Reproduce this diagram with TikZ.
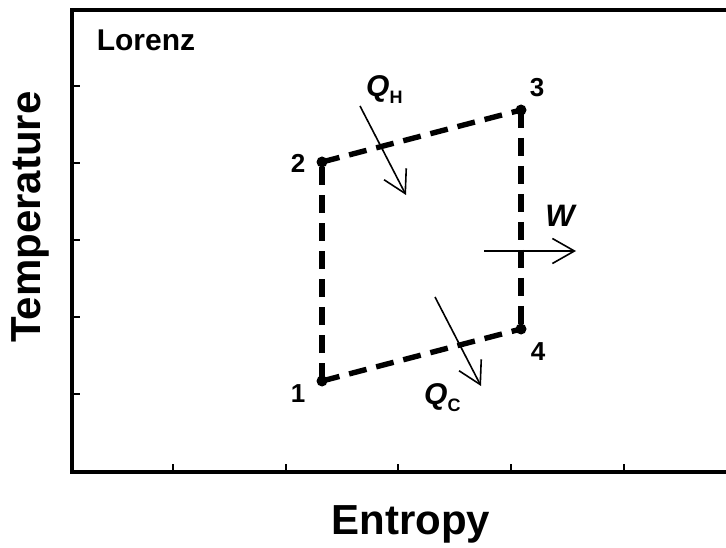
\documentclass[tikz,border=0pt]{standalone}
\usepackage{fontspec}
\setmainfont{Liberation Sans}
\usetikzlibrary{arrows.meta}
\newcommand{\mysub}[1]{\raisebox{-7pt}{\upshape\fontsize{18}{18}\selectfont #1}}
\tikzset{
  frameline/.style={line width=3.4pt, line cap=rect},
  tickline/.style={line width=1.3pt},
  cycleline/.style={line width=5.4pt, dash pattern=on 18pt off 10pt, line cap=butt},
  vdot/.style={circle, fill=black, inner sep=0pt, minimum size=11pt},
  flow/.style={line width=1.6pt, -{Straight Barb[length=22pt,width=25pt,line width=1.6pt]}},
  lbl/.style={inner sep=0pt, font=\bfseries\fontsize{26}{26}\selectfont},
  qlbl/.style={inner sep=0pt, anchor=base west, font=\bfseries\itshape\fontsize{30}{30}\selectfont},
}
\begin{document}
\begin{tikzpicture}[x=1pt,y=-1pt]
\useasboundingbox (0,0) rectangle (726,548);
% frame
\draw[frameline] (726,10) -- (72,10) -- (72,472) -- (726,472);
% y ticks
\foreach \yy in {86,163,240,317,394} \draw[tickline] (72,\yy) -- (80,\yy);
% x ticks
\foreach \xx in {173,286,398,511,624} \draw[tickline] (\xx,472) -- (\xx,464);
% labels
\node[inner sep=0pt, font=\bfseries\fontsize{30}{30}\selectfont] (lorenz) at (146,40) {Lorenz};
\node[inner sep=0pt, rotate=90, font=\bfseries\fontsize{42}{42}\selectfont] (ylab) at (30,217) {Temperature};
\node[inner sep=0pt, font=\bfseries\fontsize{42}{42}\selectfont] (xlab) at (411,524) {Entropy};
% cycle points
\coordinate (p1) at (322,381);
\coordinate (p2) at (322,162);
\coordinate (p3) at (521,110);
\coordinate (p4) at (521,329);
\draw[cycleline] (p1) -- (p2);
\draw[cycleline] (p2) -- (p3);
\draw[cycleline] (p3) -- (p4);
\draw[cycleline] (p1) -- (p4);
\foreach \p in {p1,p2,p3,p4} \node[vdot] at (\p) {};
\node[lbl] (n1) at (298,394) {1};
\node[lbl] (n2) at (298,163) {2};
\node[lbl] (n3) at (537,88) {3};
\node[lbl] (n4) at (538,352) {4};
% heat / work arrows
\coordinate (qhs) at (360,106);
\coordinate (qhe) at (406,195);
\draw[flow] (qhs) -- (qhe);
\coordinate (qcs) at (435,297);
\coordinate (qce) at (481,386);
\draw[flow] (qcs) -- (qce);
\coordinate (ws) at (484,251);
\coordinate (we) at (576,251);
\draw[flow] (ws) -- (we);
\node[qlbl] (qh) at (366,97) {Q\mysub{H}};
\node[qlbl] (qc) at (424,404) {Q\mysub{C}};
\node[inner sep=0pt, font=\bfseries\itshape\fontsize{31}{31}\selectfont] (w) at (560,216) {W};
\end{tikzpicture}
\end{document}
